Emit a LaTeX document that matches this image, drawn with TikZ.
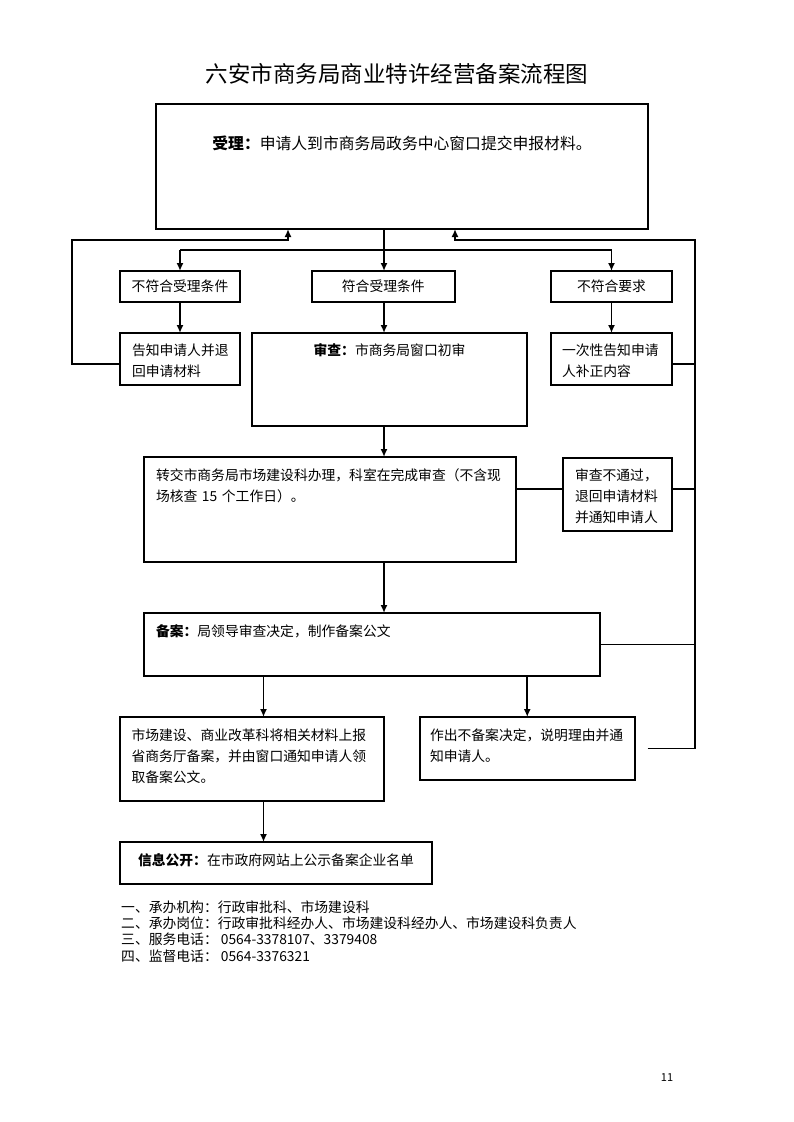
\documentclass[tikz,border=0pt]{standalone}
\usepackage{fontspec}
\setmainfont{Noto Sans CJK SC}
\usetikzlibrary{arrows.meta}

\begin{document}
\begin{tikzpicture}
    [
    x=1pt, y=-1pt,
    box/.style={draw, line width=2pt, outer sep=0pt, font=\fontsize{13.8}{21}\selectfont},
    cell/.style={box, minimum height=31pt, inner sep=0pt},
    tbox/.style={box, anchor=north west, inner ysep=0pt, align=left},
    line/.style={line width=1.8pt},
    arr/.style={line, -{Latex[length=8pt,width=7pt]}},
    ]
    \useasboundingbox (0,0) rectangle (793,1122);

    \node (title) at (397,74) [font=\fontsize{22.5}{27}\selectfont] {六安市商务局商业特许经营备案流程图};

    \node (shouli) at (156,104) [tbox, align=center, font=\fontsize{15.8}{21}\selectfont, text width=472pt, inner xsep=10pt, text height=45pt, text depth=80pt] {\textbf{受理：}申请人到市商务局政务中心窗口提交申报材料。};

    \node (bufu) at (180,286.5) [cell, minimum width=120pt] {不符合受理条件};
    \node (fuhe) at (383.3,286.5) [cell, minimum width=143.5pt] {符合受理条件};
    \node (buyao) at (611.5,286.5) [cell, minimum width=121pt] {不符合要求};

    \node (gaozhi) at (120,333) [tbox, text width=96pt, inner xsep=12pt, text height=22.2pt, text depth=29.8pt] {告知申请人并退\\回申请材料};
    \node (shencha) at (252,333) [tbox, align=center, text width=255pt, inner xsep=10pt, text height=22.2pt, text depth=70.8pt] {\textbf{审查：}市商务局窗口初审};
    \node (yici) at (551,333) [tbox, text width=99pt, inner xsep=11pt, text height=22.2pt, text depth=29.8pt] {一次性告知申请\\人补正内容};

    \node (zhuanjiao) at (144,457) [tbox, text width=348pt, inner xsep=12pt, text height=23.2pt, text depth=81.8pt] {转交市商务局市场建设科办理，科室在完成审查（不含现\\场核查 15 个工作日）。};
    \node (butong) at (563,458) [tbox, text width=85pt, inner xsep=12pt, text height=22.2pt, text depth=50.8pt] {审查不通过，\\退回申请材料\\并通知申请人};

    \node (beian) at (144,613) [tbox, text width=432pt, inner xsep=12pt, text height=23.2pt, text depth=39.8pt] {\textbf{备案：}局领导审查决定，制作备案公文};

    \node (shichang) at (120,717) [tbox, text width=241pt, inner xsep=11.5pt, text height=23.2pt, text depth=60.8pt] {市场建设、商业改革科将相关材料上报\\省商务厅备案，并由窗口通知申请人领\\取备案公文。};
    \node (zuochu) at (419.5,717) [tbox, text width=194.5pt, inner xsep=10.5pt, text height=23.2pt, text depth=39.8pt] {作出不备案决定，说明理由并通\\知申请人。};

    \node (xinxi) at (120,842) [tbox, align=center, text width=292pt, inner xsep=10pt, text height=23.2pt, text depth=18.8pt] {\textbf{信息公开：}在市政府网站上公示备案企业名单};

    % lines
    \coordinate (cx) at (384,0);
    \coordinate (fork) at (384,250);
    \coordinate (lback) at (72,240);
    \coordinate (rback) at (695,240);
    \coordinate (lin) at (288,0);
    \coordinate (rin) at (455,0);
    \coordinate (sx) at (263.5,0);
    \coordinate (bt) at ([yshift=5.5pt]butong.west);

    \draw [arr] (shouli.south -| cx) -- (fuhe.north -| cx);
    \draw [line] (fork -| bufu.north) -- (fork -| buyao.north);
    \draw [arr] (fork -| bufu.north) -- (bufu.north);
    \draw [arr] (fork -| buyao.north) -- (buyao.north);
    \draw [arr] (bufu) -- (gaozhi);
    \draw [arr] (fuhe.south -| cx) -- (shencha.north -| cx);
    \draw [arr] (buyao) -- (yici);
    \draw [arr] ([yshift=-5pt]gaozhi.west) -| (lback) -| (shouli.south -| lin);
    \draw [arr] ([xshift=12.5pt]zuochu.east) -| (rback) -| (shouli.south -| rin);
    \draw [line] ([yshift=-5pt]yici.east) -| (rback);
    \draw [line] (bt -| zhuanjiao.east) -- (bt);
    \draw [line] (bt -| butong.east) -| (rback);
    \draw [line] (beian.east) -| (rback);
    \draw [arr] (shencha.south -| cx) -- (zhuanjiao.north -| cx);
    \draw [arr] (zhuanjiao.south -| cx) -- (beian.north -| cx);
    \draw [arr] (beian.south -| sx) -- (shichang.north -| sx);
    \draw [arr] (beian.south -| zuochu.north) -- (zuochu.north);
    \draw [arr] (shichang.south -| sx) -- (xinxi.north -| sx);

    % notes
    \foreach \i/\t in {1/{一、承办机构：行政审批科、市场建设科},
                       2/{二、承办岗位：行政审批科经办人、市场建设科经办人、市场建设科负责人},
                       3/{三、服务电话： 0564-3378107、3379408},
                       4/{四、监督电话： 0564-3376321}}
      \node (note\i) at (121,890.7+16.3*\i) [anchor=west, inner sep=0pt, font=\fontsize{13.8}{16}\selectfont] {\t};

    \node (page) at (667,1078) [font=\fontsize{11}{13}\selectfont] {11};
\end{tikzpicture}
\end{document}
